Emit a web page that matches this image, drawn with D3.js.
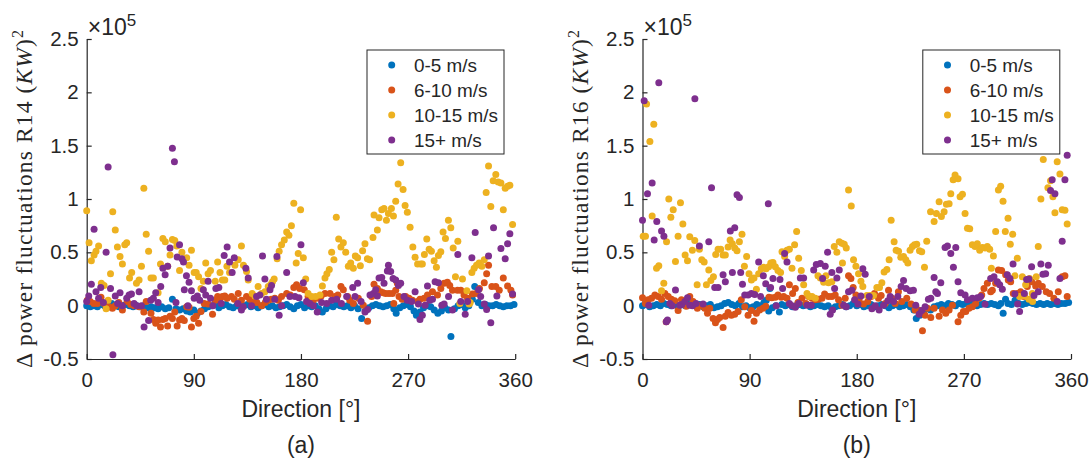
<!DOCTYPE html>
<html>
<head>
<meta charset="utf-8">
<script src="https://cdn.jsdelivr.net/npm/d3@7"></script>
<style>
  body { margin: 0; background: #fff; }
  text { font-family: Arial, "Liberation Sans", sans-serif; fill: #262626; }
</style>
</head>
<body>
<svg id="chart" width="1090" height="461"></svg>
<script>
// legend / axis setup
const speedBins = ["0-5 m/s", "6-10 m/s", "10-15 m/s", "15+ m/s"]
const binColors = ["#0072BD", "#D95319", "#EDB120", "#7E2F8E"]
const xTicks = [0, 90, 180, 270, 360]
const yTicks = [-0.5, 0, 0.5, 1, 1.5, 2, 2.5]
const yTickLabels = ["-0.5", "0", "0.5", "1", "1.5", "2", "2.5"]
const turbines = ["R14", "R16"]
const panelTitles = ["(a)", "(b)"]

// values are [direction deg, delta power fluctuation in 1e5 (kW)^2]
const r14Low = [[0,0.0],[3,-0.01],[6,0.0],[9,-0.01],[12,0.01],[15,0.0],[18,-0.01],[21,0.02],[24,0.0],[27,-0.01],[30,0.0],[33,0.01],[36,0.0],[39,-0.01],[42,0.0],[45,-0.01],[48,0.0],[51,-0.02],[54,-0.01],[57,-0.02],[60,-0.03],[63,-0.01],[66,-0.03],[69,-0.02],[72,0.06],[75,-0.03],[78,-0.04],[81,-0.03],[84,-0.05],[87,-0.06],[90,-0.04],[93,-0.07],[96,-0.05],[99,-0.03],[102,-0.01],[105,0.0],[108,0.01],[111,-0.02],[114,0.0],[117,0.01],[120,-0.01],[123,-0.02],[126,0.0],[129,-0.01],[132,0.0],[135,0.01],[138,-0.01],[141,0.0],[144,-0.02],[147,0.0],[150,0.01],[153,-0.01],[156,0.0],[159,-0.02],[162,-0.01],[165,0.0],[168,0.01],[171,-0.01],[174,-0.03],[177,0.0],[180,0.01],[183,-0.02],[186,0.0],[189,-0.01],[192,0.0],[195,-0.03],[198,-0.06],[201,-0.03],[204,0.0],[207,-0.01],[210,0.01],[213,0.0],[216,-0.01],[219,0.0],[222,-0.02],[225,0.0],[228,-0.03],[231,-0.12],[234,-0.05],[237,-0.02],[240,0.0],[243,0.01],[246,0.0],[249,-0.01],[252,0.0],[255,0.01],[258,-0.03],[260,-0.07],[263,-0.02],[266,0.0],[269,0.01],[272,-0.01],[275,-0.05],[277,-0.09],[280,-0.06],[283,-0.02],[286,0.0],[289,-0.01],[292,-0.04],[295,-0.07],[298,-0.05],[301,-0.02],[304,-0.04],[306,-0.29],[309,-0.03],[312,0.0],[315,0.01],[318,-0.02],[321,0.0],[324,0.06],[326,0.18],[329,0.03],[332,0.0],[335,0.01],[338,0.0],[341,0.0],[344,0.01],[347,0.0],[350,-0.01],[353,0.0],[356,0.0],[359,0.01]]

const r14Mid = [[0.5,0.05],[3,0.04],[6,0.02],[9,0.02],[12,0.08],[14.6,0.02],[19,-0.01],[21.6,-0.025],[24,0.0],[27,0.03],[30,-0.04],[34,0.04],[37,0.01],[40,0.0],[44,-0.01],[48,-0.06],[50,0.04],[54,-0.07],[56,-0.13],[58,-0.165],[60,-0.135],[62,-0.2],[64,-0.13],[66,-0.12],[68,-0.19],[70,-0.1],[72,-0.12],[74,-0.06],[76,-0.19],[78,-0.135],[80,-0.12],[82,-0.14],[84,-0.01],[86,-0.015],[88,-0.2],[90,-0.12],[92,-0.1],[94,-0.165],[96,-0.055],[98.7,0.02],[102,0.015],[105.7,-0.08],[108,0.05],[110,0.085],[112,0.06],[114,0.085],[116,0.09],[118,0.07],[121.6,0.085],[124,0.06],[127.3,0.115],[130,0.05],[134.3,0.085],[137,0.06],[139.9,0.04],[143,0.03],[147,0.0],[150,0.03],[152.5,0.05],[155,0.06],[158,0.07],[161,0.05],[163.7,0.085],[168,0.115],[171,0.1],[174,0.17],[176.3,0.195],[179,0.16],[182.8,0.15],[186,0.085],[188,0.06],[190.4,0.05],[194.6,0.07],[197,0.09],[200.2,0.115],[204.4,0.115],[208.6,0.085],[211,0.1],[213.6,0.18],[215.6,0.15],[219.2,0.085],[221,0.05],[224,0.02],[228.2,0.07],[232.4,0.005],[236,-0.145],[239.4,0.085],[241.4,0.2],[244.2,0.16],[247,0.13],[249,0.12],[251.2,0.115],[254,0.115],[256.8,0.115],[258,0.02],[259.6,0.145],[261,0.21],[262.4,0.085],[265,0.06],[268,0.085],[270.8,0.07],[273.6,0.05],[277.9,0.04],[280,0.06],[283.5,0.07],[286.3,0.1],[290.5,0.13],[294.7,0.1],[297.5,0.16],[300.3,0.21],[303,0.22],[305,0.19],[307.3,0.145],[311.5,0.145],[314.3,0.145],[317,0.1],[320,0.07],[324,0.11],[327,0.115],[330,0.16],[334,0.215],[336,0.3],[337.6,0.38],[340.4,0.18],[343.7,0.18],[346.6,0.145],[350,0.26],[353.6,0.185],[356.4,0.145],[357.8,0.1]]

const r14High = [[0,0.89],[2,0.59],[3.9,0.42],[6.2,0.475],[7.8,0.51],[10,0.56],[12.3,0.21],[14.6,0.19],[16.3,-0.03],[18,0.05],[20,0.3],[21.9,0.88],[24,0.71],[25.8,0.55],[28,0.46],[30,0.39],[32,0.57],[33.6,0.59],[36,0.26],[37.8,0.31],[41.8,0.21],[44,0.24],[46,0.37],[48,1.1],[50,0.67],[52,0.51],[54,0.26],[56,0.26],[60,0.12],[62,0.39],[64,0.63],[66,0.6],[68,0.37],[70,0.475],[72,0.62],[74,0.61],[75.7,0.56],[78,0.33],[80,0.5],[82,0.44],[84,0.45],[86,0.38],[88,0.52],[90.3,0.31],[92,0.31],[94,0.27],[96,0.16],[98,0.23],[100,0.4],[102,0.3],[104,0.33],[108,0.23],[110,0.41],[112,0.31],[114,0.24],[116,0.24],[117.8,0.37],[120,0.31],[124.5,0.38],[127.3,0.43],[130,0.56],[131.7,0.38],[134.3,0.32],[135.7,0.24],[139,0.115],[141.3,0.09],[144,0.18],[146.9,0.115],[149.7,0.13],[152.5,0.18],[154.7,0.2],[156.1,0.225],[157.5,0.25],[160,0.44],[161.7,0.51],[163.7,0.57],[166,0.615],[168,0.69],[169.9,0.66],[172,0.75],[174,0.96],[176,0.4],[177.7,0.49],[179.7,0.9],[182,0.45],[184,0.25],[186,0.115],[189,0.085],[192.3,0.085],[196,0.1],[198,0.185],[200.2,0.26],[201.8,0.3],[203.8,0.34],[205.8,0.5],[207.7,0.43],[209.7,0.83],[211.7,0.625],[213.6,0.55],[215.6,0.59],[217.6,0.5],[219.8,0.37],[221.8,0.4],[224,0.35],[225.7,0.465],[227.6,0.45],[229.9,0.375],[231.8,0.515],[233.8,0.58],[235.8,0.44],[237.7,0.43],[240.5,0.64],[241.4,0.85],[244.2,0.71],[245.6,0.825],[247.9,0.9],[249.8,0.91],[251.8,0.8],[253.5,0.865],[256,0.91],[257.7,0.84],[259.6,0.98],[261.6,1.14],[263.8,1.34],[265.8,1.09],[267.5,0.94],[269.4,0.875],[271.7,0.735],[274,0.55],[275.9,0.455],[278,0.39],[280.7,0.39],[282,0.39],[283.7,0.48],[285.7,0.625],[287.7,0.53],[289.6,0.51],[291.9,0.42],[293.8,0.36],[295.5,0.47],[297.5,0.505],[299.4,0.69],[301.4,0.63],[303.9,0.8],[305.9,0.73],[307.9,0.54],[309.8,0.27],[311.8,0.605],[313.5,0.02],[315.7,0.25],[319.4,0.14],[321.3,0.015],[322.2,0.03],[323.6,0.31],[325.5,0.35],[327.5,0.38],[329.7,0.4],[332,0.37],[334,0.43],[335.6,1.06],[337.6,1.31],[339.5,0.93],[341.5,1.17],[343.7,1.23],[345.7,1.16],[348,1.15],[350,0.9],[351.6,1.1],[353.6,1.12],[355.5,1.13],[357.8,0.76]]

const r14Top = [[0,0.04],[1.7,0.09],[3.9,0.2],[6.2,0.716],[7.8,0.13],[10,0.07],[11.8,0.17],[14,0.03],[16.3,0.5],[18,1.3],[20,0.16],[22,-0.46],[24,0.09],[26,0.02],[28,0.12],[30,0.0],[33.6,0.07],[35.6,0.1],[37.6,0.11],[39.8,0.02],[42,0.0],[44,0.13],[46,0.0],[48.2,-0.2],[52,-0.14],[53.8,0.05],[56,0.07],[58,0.12],[60,0.03],[62.2,0.18],[64,0.35],[65.9,0.29],[68,0.37],[70,0.54],[72,1.475],[73.7,1.35],[75,0.03],[76,0.456],[78,0.57],[80,0.44],[81.3,0.41],[82,0.15],[83.8,0.28],[85,0.0],[86,0.22],[88,0.14],[90.3,0.07],[93,0.09],[95,0.05],[98,0.15],[100,0.1],[102,0.23],[104,0.07],[106,0.0],[108.5,0.16],[111,0.17],[113,0.02],[115.5,0.47],[118,0.55],[120,0.41],[122.2,0.31],[124,0.45],[127,0.02],[130,-0.04],[131.5,-0.01],[133.7,0.35],[135.7,0.26],[138.5,0.0],[142.7,0.085],[145.5,0.1],[147.7,0.465],[149.7,0.25],[151,0.06],[154,0.15],[155.3,0.19],[158,0.06],[159.8,0.46],[161.7,-0.09],[163.7,0.0],[168,0.31],[170.7,0.085],[175,0.085],[178.3,0.075],[180,0.57],[182,0.215],[184.7,0.04],[187.5,0.02],[190.4,0.0],[193.7,-0.06],[197.4,0.03],[201.6,0.02],[205.8,0.05],[210,0.06],[214,0.02],[218.4,0.085],[223.5,0.17],[225.4,0.085],[227.6,0.21],[230.5,0.04],[233.8,-0.06],[236,-0.035],[238,0.1],[240.8,0.115],[242.8,0.15],[244.2,0.09],[245.6,0.26],[247.9,0.265],[249.8,0.21],[252.6,0.325],[253.5,0.38],[255.4,0.32],[257.4,0.255],[259.6,0.24],[261.9,0.19],[263.8,0.21],[266.6,0.085],[269.4,0.05],[273,0.04],[275.9,0.13],[278.7,0.015],[280,-0.13],[282,-0.09],[284.3,0.005],[286.3,0.185],[288.2,0.05],[290.5,0.06],[292.7,0.225],[295.5,0.215],[298.3,0.005],[300.3,0.015],[304,0.085],[307.3,-0.04],[311.8,0.48],[314.3,0.04],[318,-0.08],[320,0.04],[323.6,0.45],[326.4,0.685],[329.2,0.15],[331,0.085],[334,0.015],[336,-0.035],[337.6,0.465],[339.5,-0.16],[341.8,0.73],[344.6,0.09],[348,0.535],[351.6,0.44],[353.6,0.58],[355.5,0.675],[357.8,0.11]]

const r16Low = [[0,0.0],[3,0.01],[6,-0.01],[9,0.0],[12,0.01],[15,0.0],[18,0.02],[21,0.01],[24,0.0],[27,0.01],[30,-0.01],[33,0.01],[36,0.0],[39,0.02],[42,0.01],[45,0.0],[48,0.01],[51,-0.01],[54,0.0],[57,0.01],[60,-0.02],[63,-0.01],[66,0.0],[69,0.02],[72,0.03],[75,0.01],[78,0.0],[81,0.02],[84,-0.01],[87,0.0],[90,-0.02],[93,-0.01],[96,0.01],[99,0.0],[102,0.03],[104,0.05],[106,-0.05],[107,0.16],[109,-0.02],[112,0.0],[115,-0.06],[117,0.01],[120,0.0],[123,0.01],[126,-0.01],[129,0.0],[132,0.01],[135,0.0],[138,0.01],[141,-0.01],[144,0.0],[147,0.01],[150,0.0],[153,-0.01],[156,0.0],[159,-0.03],[162,-0.01],[165,0.0],[168,0.01],[171,-0.01],[174,0.0],[177,0.02],[180,0.0],[183,0.01],[186,-0.01],[189,0.0],[192,0.01],[195,-0.01],[198,0.0],[201,0.01],[204,0.0],[207,-0.02],[210,0.0],[213,0.01],[216,-0.01],[219,0.0],[222,0.01],[225,-0.01],[228,-0.04],[230,-0.12],[233,-0.09],[236,-0.06],[239,-0.03],[242,-0.04],[245,-0.01],[248,0.0],[251,0.01],[254,0.0],[257,0.02],[260,0.01],[263,0.0],[266,0.02],[269,0.01],[272,0.02],[275,0.01],[278,0.02],[281,0.0],[284,0.01],[287,0.02],[290,0.01],[293,0.02],[296,0.01],[299,0.0],[301,0.02],[303,-0.07],[305,0.06],[307,0.02],[310,0.01],[313,0.05],[316,0.02],[319,0.01],[322,0.02],[325,0.03],[328,0.02],[331,0.01],[334,0.02],[337,0.01],[340,0.02],[343,0.01],[346,0.02],[349,0.01],[352,0.02],[355,0.02],[358,0.03]]

const r16Mid = [[0,0.075],[2.5,0.02],[4.8,0.055],[7.6,0.07],[10.4,0.1],[13.2,0.085],[16,0.06],[18.8,0.115],[19.9,-0.15],[21.6,0.085],[24.3,0.06],[27.1,0.045],[29.9,-0.045],[32.7,0.055],[36.9,-0.005],[39.7,0.085],[42.5,0.04],[46.1,-0.025],[49.5,0.005],[52.3,-0.025],[54.6,-0.07],[56.5,-0.025],[59.3,-0.12],[61.3,-0.16],[63,-0.13],[64.9,-0.11],[67.7,-0.205],[69.6,-0.1],[71.9,-0.065],[74.7,-0.09],[77.5,-0.08],[80.3,-0.055],[83,0.055],[85.9,-0.01],[88.7,-0.09],[91.5,-0.045],[93.7,-0.145],[95.7,-0.07],[98.4,-0.04],[101.2,-0.025],[103.5,-0.005],[106.2,0.08],[108.6,0.075],[111.6,0.08],[113.8,0.1],[116.6,0.08],[118.6,0.085],[121.4,0.07],[123.4,0.195],[126.1,0.115],[128.4,0.16],[130.6,0.03],[134,0.07],[137.3,0.02],[139.6,0.085],[142.4,0.07],[145.2,0.055],[147.9,0.06],[150.8,0.07],[153,0.11],[156.3,0.085],[159.1,0.085],[161.9,0.1],[164.7,0.055],[167.5,0.005],[170.3,0.07],[173.1,0.28],[175.1,0.255],[177,0.17],[179.3,0.1],[182,0.055],[185.7,0.015],[189.3,0.04],[192.1,0.085],[194.9,0.115],[198.3,0.07],[200.5,0.095],[203.9,0.02],[206.7,0.145],[209.5,0.07],[212.3,0.02],[215,0.13],[217.8,0.04],[222,0.07],[225.7,0.015],[229,-0.04],[231.8,-0.04],[235.2,-0.235],[237.4,-0.09],[239.4,-0.025],[242.2,-0.11],[245,-0.025],[249.2,-0.1],[252,-0.04],[254.8,-0.07],[257.6,-0.04],[260.4,0.005],[265.1,-0.15],[267.4,-0.09],[269.6,-0.055],[271.6,-0.055],[274.3,-0.025],[277.1,-0.01],[279.9,0.02],[282.7,0.07],[285,0.1],[286.9,0.16],[289.7,0.21],[292.5,0.13],[293.9,0.145],[296.7,0.21],[299,0.335],[301.7,0.33],[305.1,0.29],[307.3,0.24],[309.3,0.225],[311.5,0.115],[314.9,0.115],[317.7,0.13],[320.5,0.085],[323.3,0.18],[326.9,0.225],[330.3,0.185],[332.5,0.21],[335.9,0.18],[339.2,0.13],[342,0.115],[345.6,0.07],[349.3,0.13],[352.6,0.27],[354.9,0.28],[356.8,0.085]]

const r16High = [[0.6,0.65],[2.5,0.65],[3.4,1.89],[6.2,1.54],[8.1,0.84],[9.5,1.7],[11.8,0.35],[13.7,0.375],[16,0.14],[17.9,0.21],[20.2,0.6],[22.1,1.0],[23.8,0.83],[25.8,0.9],[27.7,0.415],[29.9,0.65],[31.9,0.965],[33.9,0.765],[35.8,0.475],[37.8,0.42],[39.7,0.645],[41.9,0.52],[43.9,0.61],[45.9,0.195],[47.8,0.53],[49.8,0.43],[51.8,0.41],[53.7,0.195],[55.7,0.335],[57.4,0.235],[59.6,0.27],[61.5,0.48],[63.5,0.53],[65.7,0.53],[67.7,0.475],[69.6,0.475],[71.9,0.55],[73.6,0.615],[75.5,0.58],[77.5,0.54],[79.4,0.515],[81.4,0.6],[83.6,0.67],[85.6,0.37],[87.5,0.46],[89.5,0.3],[91.5,0.24],[93.7,0.26],[95.7,0.155],[97.6,0.3],[99.8,0.345],[101.8,0.36],[103.8,0.345],[106,0.365],[107.8,0.4],[109.6,0.405],[111.6,0.365],[113.8,0.33],[116,0.31],[117.2,0.505],[119.4,0.46],[121.4,0.52],[123.4,0.53],[125.6,0.35],[127.8,0.57],[129.5,0.695],[131.2,0.445],[133.4,0.33],[135.4,0.195],[138.2,0.115],[140.1,0.085],[142.4,0.085],[145.2,0.07],[147.4,0.28],[149.4,0.26],[152.2,0.22],[154.1,0.28],[156.3,0.215],[159.1,0.225],[161.1,0.555],[163.3,0.5],[165.3,0.6],[167.5,0.585],[168,0.4],[169.5,0.575],[171.2,0.54],[173.1,1.085],[175.4,0.935],[177.3,0.43],[179.3,0.37],[181.5,0.3],[183.5,0.23],[185.1,0.18],[188.5,0.095],[191.3,0.095],[194.1,0.095],[196.9,0.17],[199.1,0.17],[201.1,0.215],[203,0.315],[205.3,0.34],[207.2,0.43],[208.9,0.8],[211.4,0.6],[213.1,0.52],[215.1,0.51],[217,0.455],[219.3,0.46],[221.2,0.43],[222.9,0.4],[224.8,0.52],[226.8,0.555],[228.5,0.57],[230.4,0.575],[232.7,0.515],[234.6,0.505],[236.9,0.36],[238.8,0.605],[242,0.88],[245,0.79],[246.9,0.865],[249.2,0.975],[251.1,0.835],[253.4,0.88],[255.3,0.95],[257.6,0.955],[259,1.05],[261,1.18],[262.6,1.225],[265.1,1.19],[266.8,1.02],[268.8,1.045],[271,0.865],[273,0.725],[274.9,0.72],[277.1,0.57],[279.4,0.555],[281.3,0.58],[283.3,0.52],[285.5,0.545],[287.8,0.54],[289.7,0.555],[291.7,0.53],[293.1,0.35],[294.8,0.465],[296.7,0.695],[299,1.085],[300.9,1.12],[302.9,0.98],[304.8,0.695],[307.1,0.82],[309,0.575],[311,0.67],[312.9,0.28],[314.9,0.445],[316.8,0.085],[319.1,0.27],[321,0.09],[321.9,0.195],[324.7,0.06],[325.2,0.255],[327.5,0.115],[327.7,0.04],[330.8,0.27],[332.5,0.555],[334.7,1.0],[336.7,1.37],[340.6,1.105],[342.8,1.17],[344.8,1.02],[346.5,0.87],[348.4,1.35],[350.7,1.235],[352.6,0.9],[354.9,0.895],[356.8,0.765]]

const r16Top = [[0,0.8],[1.4,1.92],[4.2,1.05],[5.3,0.005],[8.1,1.15],[9.8,0.615],[12,0.79],[13.7,2.09],[16,0.7],[18,0.65],[20,-0.15],[21,-0.135],[23,0.02],[25,0.0],[27.7,0.147],[31.3,0.005],[33,0.01],[35.6,0.04],[37.8,0.075],[39.7,0.005],[42,0.0],[44,1.94],[45,0.02],[47.8,0.56],[50.9,0.015],[55.7,0.6],[58,1.105],[60.7,0.17],[63.5,0.17],[67.7,0.29],[69.6,0.225],[73.8,0.7],[75.5,0.31],[77.5,0.73],[79.4,1.04],[81.4,1.015],[82.5,0.31],[84,0.2],[85.9,0.1],[88.7,0.1],[91.5,0.115],[94.3,0.105],[97.6,0.41],[99.3,0.085],[101.5,0.28],[103.5,0.205],[105.7,0.955],[107.6,0.17],[109.6,0.255],[112.4,0.0],[115.5,0.245],[117.7,0.16],[119.4,0.49],[121.4,0.41],[123.4,0.02],[125.6,0.0],[128.4,-0.015],[131.2,0.02],[132.6,0.26],[135.4,0.26],[138.2,0.005],[141.8,0.005],[143.8,0.335],[146,0.385],[149.4,0.395],[151.3,0.255],[153.5,0.37],[155.5,0.5],[157.7,-0.08],[159.1,0.31],[159.7,-0.04],[161.4,0.16],[163.3,0.26],[165.3,0.335],[169,0.005],[171.2,-0.01],[173.1,0.13],[175.9,0.145],[178.2,0.055],[181,0.015],[183.5,0.09],[185.1,0.345],[187.1,0.295],[190.5,0.085],[192.7,-0.03],[195.5,0.0],[198.8,-0.04],[202.5,0.005],[206.1,0.045],[208.1,0.085],[210.9,0.04],[214.5,0.085],[217.3,0.18],[219.3,0.235],[221.5,0.16],[224.8,0.14],[227.6,0.145],[229.6,0.005],[232.4,-0.08],[234.6,-0.045],[237.4,-0.01],[240.2,0.06],[242.2,0.07],[245,0.265],[246.4,0.13],[247.8,0.115],[250.6,0.215],[254.2,0.545],[256.2,0.56],[259,0.49],[261.2,0.36],[263.2,0.545],[265.1,0.225],[267.4,0.12],[271,0.1],[273,0.055],[277.1,0.07],[281.3,0.075],[284.1,0.085],[287.8,0.0125],[292.5,0.255],[295.3,0.27],[298.1,0.225],[300.1,0.195],[302.3,0.155],[306.5,0.29],[308.7,0.255],[311.3,0.39],[312.9,0.11],[315.2,0.015],[316.8,-0.055],[320.8,0.115],[322.7,0.245],[324.7,0.25],[326.9,0.365],[328.9,0.095],[332.5,0.13],[334.7,0.39],[336.4,0.295],[338.7,0.3],[340.9,0.38],[342.8,1.08],[344.2,1.18],[346.5,1.05],[348.4,0.04],[350.7,0.255],[352.6,0.605],[354.9,1.18],[356.8,1.41]]

const svg = d3.select("#chart")
const axisColor = "#262626"

const panels = [
    {left: 86.7, series: [r14Low, r14Mid, r14High, r14Top]},
    {left: 642.5, series: [r16Low, r16Mid, r16High, r16Top]}
]
const plotTop = 39, plotW = 428.5, plotH = 320

panels.forEach((p, pi) => {
    const g = svg.append("g").attr("transform", "translate(" + p.left + "," + plotTop + ")")

    let x = d3.scaleLinear().domain([0, 360]).range([0, plotW])
    let y = d3.scaleLinear().domain([-0.5, 2.5]).range([plotH, 0])

    // axes, matlab style: ticks point inward, no box
    const xAxis = g.append("g")
        .attr("transform", "translate(0," + plotH + ")")
        .call(d3.axisBottom(x).tickValues(xTicks).tickSizeInner(-5).tickSizeOuter(0).tickPadding(13))
    const yAxis = g.append("g")
        .call(d3.axisLeft(y).tickValues(yTicks).tickFormat((d, i) => yTickLabels[i])
            .tickSizeInner(-5).tickSizeOuter(0).tickPadding(8))
    ;[xAxis, yAxis].forEach(a => {
        a.selectAll("path, line").attr("stroke", axisColor).attr("stroke-width", 1.2)
        a.selectAll("text").attr("fill", axisColor).style("font-size", "20.5px")
            .style("font-family", "Arial, 'Liberation Sans', sans-serif")
    })

    // points, one series at a time so purple ends on top
    p.series.forEach((data, si) => {
        g.append("g")
            .selectAll("circle")
            .data(data)
            .enter()
            .append("circle")
            .attr("cx", d => x(d[0]))
            .attr("cy", d => y(d[1]))
            .attr("r", 3.5)
            .attr("fill", binColors[si])
    })

    // x10^5 exponent label
    const expo = g.append("text")
        .attr("x", 1)
        .attr("y", -4)
        .style("font-size", "23px")
    expo.append("tspan").text("\u00d710")
    expo.append("tspan").attr("dy", -9).style("font-size", "17px").text("5")

    // axis labels
    g.append("text")
        .attr("x", plotW / 2)
        .attr("y", plotH + 58)
        .attr("text-anchor", "middle")
        .style("font-size", "23px")
        .text("Direction [\u00b0]")

    const yl = g.append("text")
        .attr("transform", "translate(-63," + (plotH / 2) + ") rotate(-90)")
        .attr("text-anchor", "middle")
        .attr("dy", "0.35em")
        .attr("textLength", 338)
        .attr("lengthAdjust", "spacing")
        .style("font-family", "'Liberation Serif', 'Times New Roman', serif")
        .style("font-size", "23.5px")
    yl.append("tspan").text("\u0394 power fluctuations " + turbines[pi] + " (")
    yl.append("tspan").style("font-style", "italic").text("KW")
    yl.append("tspan").text(")")
    yl.append("tspan").attr("dy", -9).style("font-size", "16px").text("2")

    g.append("text")
        .attr("x", plotW / 2)
        .attr("y", plotH + 94)
        .attr("text-anchor", "middle")
        .style("font-size", "23px")
        .text(panelTitles[pi])

    // legend
    const leg = g.append("g").attr("transform", "translate(" + (367 - 86.7) + "," + (50 - plotTop) + ")")
    leg.append("rect")
        .attr("width", 137).attr("height", 104)
        .attr("fill", "#fff").attr("stroke", axisColor).attr("stroke-width", 1)
    speedBins.forEach((name, i) => {
        leg.append("circle")
            .attr("cx", 24.7).attr("cy", 15 + i * 25)
            .attr("r", 3.5).attr("fill", binColors[i])
        leg.append("text")
            .attr("x", 47).attr("y", 15 + i * 25)
            .attr("dy", "0.35em")
            .style("font-size", "18.9px")
            .text(name)
    })
})
</script>
</body>
</html>
